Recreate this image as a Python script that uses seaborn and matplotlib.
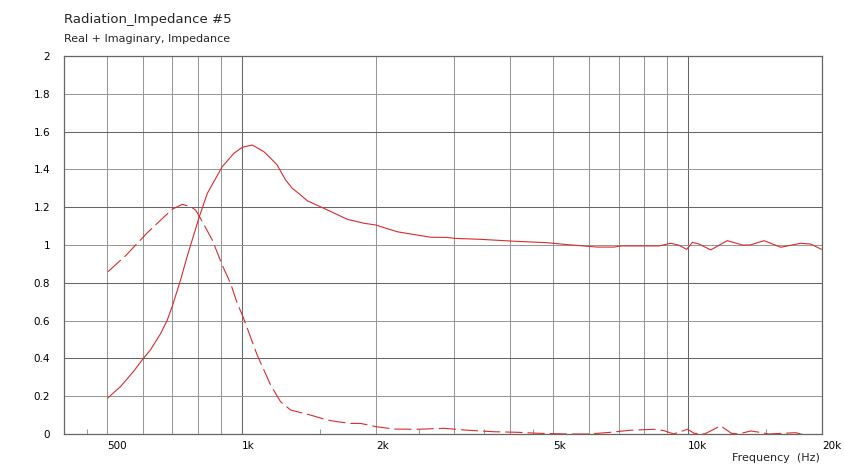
import pandas as pd
import matplotlib
matplotlib.use("Agg")
import matplotlib.pyplot as plt
import seaborn as sns

# values
real_freq = [501, 535, 573, 601, 625, 658, 681, 701, 730, 755, 802, 838, 905, 961, 1004,
             1057, 1122, 1162, 1202, 1255, 1299, 1356, 1404, 1530, 1726, 1881, 1997,
             2234, 2653, 2892, 3007, 3435, 4079, 4846, 5370, 6274, 6839, 7088, 8625,
             9162, 9526, 9951, 10245, 10603, 11262, 12270, 13262, 13800, 14833, 16163,
             17920, 18870, 19946]
real_vals = [0.19, 0.25, 0.332, 0.397, 0.445, 0.53, 0.60, 0.683, 0.815, 0.938, 1.141,
             1.273, 1.414, 1.485, 1.517, 1.529, 1.494, 1.459, 1.423, 1.344, 1.30, 1.265,
             1.234, 1.194, 1.136, 1.115, 1.106, 1.070, 1.041, 1.040, 1.035, 1.030, 1.020,
             1.012, 1.002, 0.989, 0.989, 0.995, 0.995, 1.009, 1.0, 0.977, 1.014, 1.005,
             0.974, 1.023, 1.0, 1.0, 1.023, 0.988, 1.009, 1.005, 0.977]

imag_freq = [502, 549, 615, 699, 736, 769, 789, 809, 860, 905, 945, 978, 1004, 1084,
             1162, 1223, 1288, 1428, 1556, 1639, 1760, 1848, 2000, 2195, 2478, 2842,
             3206, 3680, 4150, 4603, 5370, 6000, 6720, 7450, 8405, 8840, 9300, 9990,
             10335, 10900, 11450, 11840, 12520, 13000, 13840, 14500, 15200, 17470,
             18500, 20000]
imag_vals = [0.859, 0.942, 1.065, 1.189, 1.215, 1.203, 1.185, 1.141, 1.026, 0.894, 0.797,
             0.691, 0.630, 0.418, 0.259, 0.171, 0.127, 0.100, 0.074, 0.065, 0.056, 0.056,
             0.039, 0.026, 0.025, 0.030, 0.020, 0.012, 0.009, 0.004, 0.0, 0.0, 0.009,
             0.020, 0.025, 0.018, 0.0, 0.025, 0.004, 0.0, 0.025, 0.044, 0.004, 0.0,
             0.016, 0.009, 0.0, 0.007, -0.01, -0.01]

grid_freqs = [500, 600, 700, 800, 900, 1000, 2000, 3000, 4000, 5000, 6000, 7000,
              8000, 9000, 10000, 20000]
labeled = {500: "500", 1000: "1k", 2000: "2k", 5000: "5k", 10000: "10k", 20000: "20k"}
minor_freqs = [450, 1500, 2500, 3500, 4500, 15000]
y_ticks = [0, 0.2, 0.4, 0.6, 0.8, 1.0, 1.2, 1.4, 1.6, 1.8, 2.0]
y_labels = ["0", "0.2", "0.4", "0.6", "0.8", "1", "1.2", "1.4", "1.6", "1.8", "2"]

real_df = pd.DataFrame({"freq": real_freq, "value": real_vals})
imag_df = pd.DataFrame({"freq": imag_freq, "value": imag_vals})

sns.set_style("white")
plt.rcParams["font.family"] = ["DejaVu Sans"]

red = "#dd2b2b"
light = "#999999"
dark = "#666666"

fig = plt.figure(figsize=(8.44, 4.69), dpi=100)
ax = fig.add_axes([64 / 844, 35 / 469, 758 / 844, 378 / 469])

sns.lineplot(data=real_df, x="freq", y="value", ax=ax, color=red, linewidth=0.8,
             zorder=3, sort=False)
sns.lineplot(data=imag_df, x="freq", y="value", ax=ax, color=red, linewidth=0.8,
             zorder=3, sort=False)
ax.lines[1].set_dashes((15.5, 4.5))

ax.set_xscale("log")
ax.set_xlim(400, 20000)
ax.set_ylim(0, 2)
ax.set_xlabel("")
ax.set_ylabel("")

ax.set_xticks(grid_freqs)
ax.set_xticklabels([labeled.get(f, "") for f in grid_freqs])
ax.set_xticks(minor_freqs, minor=True)
ax.set_xticklabels([], minor=True)
ax.set_yticks(y_ticks)
ax.set_yticklabels(y_labels)

ax.tick_params(axis="both", which="major", length=0, labelsize=7.5, colors="black")
ax.tick_params(axis="x", which="major", pad=5)
ax.tick_params(axis="y", which="major", pad=10)
ax.tick_params(axis="x", which="minor", bottom=True, direction="in", length=3.5,
               width=0.75, color=light)
for lab in ax.get_xticklabels():
    lab.set_ha("left")

ax.grid(True, which="major", color=light, linewidth=0.75)
for f, gl in zip(grid_freqs, ax.get_xgridlines()):
    if f in (1000, 10000):
        gl.set_color(dark)
for i, gl in enumerate(ax.get_ygridlines()):
    if i % 2 == 0:
        gl.set_color(dark)

for side in ax.spines.values():
    side.set_color(dark)
    side.set_linewidth(0.9)

fig.text(64 / 844, 1 - 20 / 469, "Radiation_Impedance #5", fontsize=9.5,
         ha="left", va="center")
fig.text(64 / 844, 1 - 39 / 469, "Real + Imaginary, Impedance", fontsize=8,
         ha="left", va="center")
fig.text(820 / 844, 1 - 458 / 469, "Frequency  (Hz)", fontsize=8,
         ha="right", va="center")

fig.savefig("out.png", dpi=100)
plt.close(fig)
